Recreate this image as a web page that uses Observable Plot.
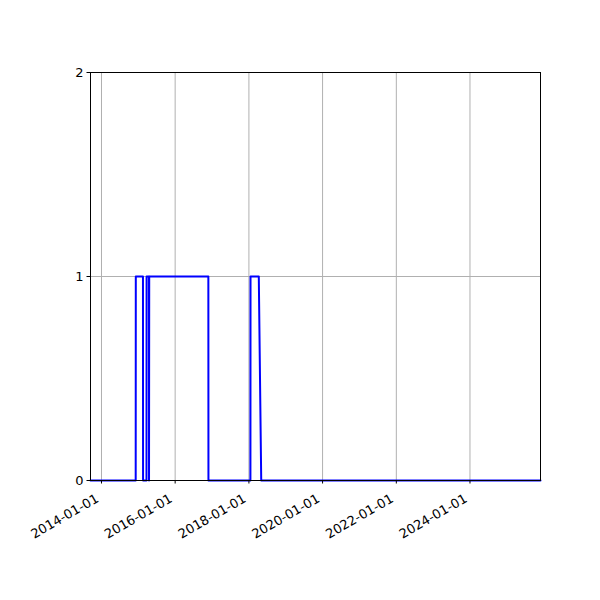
<!DOCTYPE html>
<html>
<head>
<meta charset="utf-8">
<script src="https://cdn.jsdelivr.net/npm/d3@7"></script>
<script src="https://cdn.jsdelivr.net/npm/@observablehq/plot@0.6"></script>
<style>
  html, body { margin: 0; padding: 0; background: #fff; }
  #chart svg { display: block; }
</style>
</head>
<body>
<div id="chart"></div>
<script>
const dates = [
  "2013-09-14", "2014-12-06", "2014-12-07", "2015-02-16", "2015-02-17",
  "2015-03-23", "2015-03-24", "2015-04-16", "2015-04-17", "2015-04-19",
  "2016-11-25", "2016-11-26", "2018-01-16", "2018-01-17", "2018-04-09",
  "2018-05-03", "2025-11-30"
];
const values = [0, 0, 1, 1, 0, 0, 1, 1, 0, 1, 1, 0, 0, 1, 1, 0, 0];
const xTicks = ["2014-01-01", "2016-01-01", "2018-01-01", "2020-01-01", "2022-01-01", "2024-01-01"];
const yTicks = [0, 1, 2];
const xDomain = ["2013-09-14", "2025-11-30"];

const parse = d3.utcParse("%Y-%m-%d");
const data = dates.map((d, i) => ({date: parse(d), value: values[i]}));

const chart = Plot.plot({
  width: 600,
  height: 600,
  marginLeft: 90,
  marginRight: 60,
  marginTop: 72,
  marginBottom: 120,
  style: {fontFamily: "DejaVu Sans", fontSize: "13px", background: "#fff", color: "#000"},
  x: {type: "utc", domain: xDomain.map(parse)},
  y: {domain: [0, 2]},
  marks: [
    Plot.gridX(xTicks.map(parse), {stroke: "#b0b0b0", strokeOpacity: 1, strokeWidth: 1}),
    Plot.gridY(yTicks, {stroke: "#b0b0b0", strokeOpacity: 1, strokeWidth: 1}),
    Plot.line(data, {x: "date", y: "value", stroke: "#0000ff", strokeWidth: 2}),
    Plot.frame({stroke: "#000", strokeWidth: 1}),
    Plot.axisX(xTicks.map(parse), {
      tickFormat: d3.utcFormat("%Y-%m-%d"),
      tickRotate: -30,
      tickSize: 3.5,
      tickPadding: 3.5,
      label: null,
      fontSize: 13
    }),
    Plot.axisX(xTicks.map(parse), {
      tickFormat: d3.utcFormat("%Y-%m-%d"),
      tickRotate: -30,
      tickSize: 0,
      text: null,
      label: null
    }),
    Plot.axisY(yTicks, {
      tickFormat: d => String(d),
      tickSize: 3.5,
      tickPadding: 3.5,
      label: null,
      fontSize: 13
    })
  ]
});
// shift rotated x tick labels so their bounding box's top-right corner sits under the tick, as in the reference
chart.querySelectorAll('g[aria-label="x-axis tick label"]').forEach(g => {
  const t = g.getAttribute("transform") || "";
  g.setAttribute("transform", (t + " translate(-4,10)").trim());
});
document.getElementById("chart").appendChild(chart);
</script>
</body>
</html>
